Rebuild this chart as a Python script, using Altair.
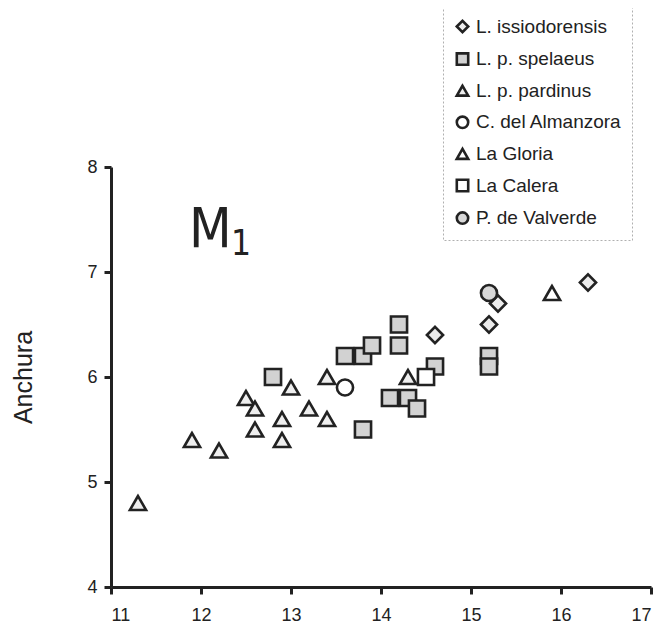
import altair as alt
import pandas as pd

series_names = ["L. issiodorensis", "L. p. spelaeus", "L. p. pardinus",
                "C. del Almanzora", "La Gloria", "La Calera", "P. de Valverde"]

iss_x = [14.6, 15.2, 15.3, 16.3]
iss_y = [6.4, 6.5, 6.7, 6.9]

spe_x = [12.8, 13.6, 13.8, 13.9, 14.2, 14.2, 13.8, 14.1, 14.3, 14.4, 14.6, 15.2, 15.2]
spe_y = [6.0, 6.2, 6.2, 6.3, 6.5, 6.3, 5.5, 5.8, 5.8, 5.7, 6.1, 6.2, 6.1]

par_x = [11.3, 11.9, 12.2, 12.5, 12.6, 12.6, 12.9, 12.9, 13.0, 13.2, 13.4, 13.4, 14.3]
par_y = [4.8, 5.4, 5.3, 5.8, 5.7, 5.5, 5.6, 5.4, 5.9, 5.7, 6.0, 5.6, 6.0]

alm_x = [13.6]
alm_y = [5.9]

glo_x = [15.9]
glo_y = [6.8]

cal_x = [14.5]
cal_y = [6.0]

val_x = [15.2]
val_y = [6.8]

x_ticks = [11, 12, 13, 14, 15, 16, 17]
y_ticks = [4, 5, 6, 7, 8]

rows = []
for name, xs, ys in zip(series_names,
                        [iss_x, spe_x, par_x, alm_x, glo_x, cal_x, val_x],
                        [iss_y, spe_y, par_y, alm_y, glo_y, cal_y, val_y]):
    for a, b in zip(xs, ys):
        rows.append({"serie": name, "longitud": a, "anchura": b})
df = pd.DataFrame(rows)

shapes = ["diamond", "square", "triangle-up", "circle", "triangle-up", "square", "circle"]
fills = ["#ececec", "#d2d2d2", "#eeeeee", "#ffffff", "#ffffff", "#ffffff", "#d8d8d8"]
strokes = ["#222222"] * 7
widths = [2.6, 2.6, 2.8, 1.6, 1.8, 1.8, 2.2]

FONT = "Liberation Sans"
legend_enc = dict(
    title=None, orient="none", legendX=332, legendY=-160,
    labelFont=FONT, labelFontSize=19, labelColor="#222",
    symbolSize=130, rowPadding=9.6,
    padding=10, strokeColor="#b0b0b0", labelOffset=4,
)

points = alt.Chart(df).mark_point(size=260, opacity=1, filled=False).encode(
    x=alt.X("longitud:Q", scale=alt.Scale(domain=[11, 17], nice=False),
            axis=alt.Axis(values=x_ticks, title=None)),
    y=alt.Y("anchura:Q", scale=alt.Scale(domain=[4, 8], nice=False),
            axis=alt.Axis(values=y_ticks, title="Anchura")),
    shape=alt.Shape("serie:N", scale=alt.Scale(domain=series_names, range=shapes),
                    legend=alt.Legend(**legend_enc)),
    fill=alt.Fill("serie:N", scale=alt.Scale(domain=series_names, range=fills),
                  legend=alt.Legend(**legend_enc)),
    stroke=alt.Stroke("serie:N", scale=alt.Scale(domain=series_names, range=strokes),
                      legend=alt.Legend(**legend_enc)),
    strokeWidth=alt.StrokeWidth("serie:N", scale=alt.Scale(domain=series_names, range=widths),
                                legend=alt.Legend(**legend_enc)),
)

label_df = pd.DataFrame({"t": ["M"], "s": ["1"]})
NARROW = "'Liberation Sans Narrow', 'DejaVu Sans Condensed', 'Liberation Sans'"
m_text = alt.Chart(label_df).mark_text(
    font=NARROW, fontSize=55, align="left", baseline="alphabetic", color="#222"
).encode(text="t:N", x=alt.value(78), y=alt.value(80))
sub_text = alt.Chart(label_df).mark_text(
    font=NARROW, fontSize=35, align="left", baseline="alphabetic", color="#222"
).encode(text="s:N", x=alt.value(120), y=alt.value(88))

chart = alt.layer(points, m_text, sub_text).properties(
    width=540, height=420,
    autosize=alt.AutoSizeParams(type="none"),
    padding={"left": 103, "top": 159, "right": 5, "bottom": 42},
).configure_view(stroke=None).configure_axis(
    grid=False, domainColor="#222", domainWidth=3, tickColor="#222", tickWidth=3,
    tickSize=7, labelFont=FONT, labelFontSize=18, labelColor="#222",
    titleFont=FONT, titleFontSize=25, titleFontWeight="normal", titleColor="#222",
).configure_axisY(labelPadding=7, titlePadding=50).configure_axisX(labelPadding=12
).configure_legend(strokeDash=[2, 2])

chart.save("out.html", embed_options={"renderer": "svg", "actions": False})
